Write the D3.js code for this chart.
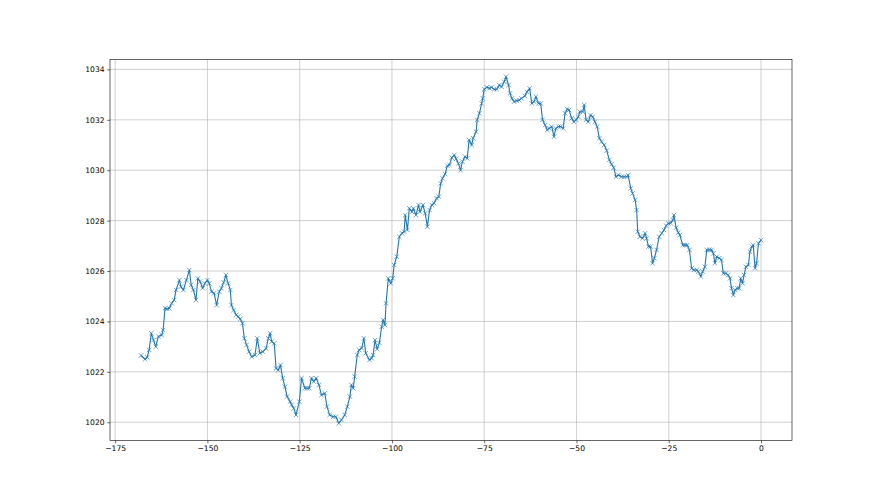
<!DOCTYPE html>
<html><head><meta charset="utf-8">
<script src="https://cdn.jsdelivr.net/npm/d3@7/dist/d3.min.js"></script>
<style>body{margin:0;background:#fff}svg{display:block}</style>
</head><body>
<svg id="c" width="880" height="495"></svg>
<script>
const hours = [-168.0,-166.9,-166.3,-165.8,-165.2,-164.6,-164.0,-163.3,-162.4,-162.0,-161.5,-160.9,-160.3,-159.7,-159.0,-158.5,-157.6,-157.2,-156.5,-155.7,-154.9,-154.4,-153.8,-153.1,-152.6,-152.0,-151.3,-150.7,-150.0,-149.5,-148.9,-148.2,-147.5,-146.8,-146.2,-145.6,-145.0,-144.4,-143.8,-143.5,-142.9,-142.2,-141.7,
-141.1,-140.5,-140.0,-139.4,-138.7,-138.0,-137.1,-136.5,-135.8,-135.0,-134.1,-133.5,-133.0,-132.6,-131.9,-131.4,-130.8,-130.2,-129.6,-129.0,-128.4,-127.6,-127.2,-126.6,-126.0,-125.1,-124.5,-123.6,-123.0,-122.4,-121.8,-121.2,-120.5,-119.8,-119.1,-118.2,-117.6,-116.9,
-115.9,-115.2,-114.4,-113.7,-112.8,-112.1,-111.4,-111.0,-110.5,-110.1,-109.4,-108.9,-108.2,-107.6,-107.1,-106.1,-105.5,-105.1,-104.6,-104.0,-103.4,-102.8,-102.4,-101.9,-101.6,-101.0,-100.3,-99.8,-99.4,-98.7,-98.0,-97.3,-96.7,-96.4,-95.8,-95.3,-94.6,-94.2,-93.5,-92.8,-92.4,-91.6,-91.0,-90.4,-89.8,-89.2,-88.6,-87.9,-87.3,-86.8,-86.3,-85.6,-85.0,-84.4,-83.8,-83.1,-82.6,-82.0,-81.4,-80.9,-80.2,-79.6,-79.1,-78.4,-78.0,-77.2,-76.9,-76.3,-75.7,-75.4,-75.0,-74.3,-73.6,-73.0,-72.3,-71.6,-70.9,-70.3,-69.6,-69.1,-68.4,-68.0,-67.5,-66.9,-66.2,-65.5,-64.9,-64.0,-63.4,-62.7,-62.1,-61.5,-61.0,-60.3,-59.7,-59.2,-58.5,-57.9,-57.4,-56.7,-56.1,-55.6,-54.9,-54.3,-53.6,-53.1,-52.5,-52.0,-51.3,-50.7,-50.1,-49.5,-49.1,-48.3,-47.9,-47.4,-46.8,-46.2,-45.6,-45.0,-44.4,-43.8,-43.2,-42.5,-41.8,-41.1,-40.5,-39.9,-39.3,-38.6,-37.8,-37.1,-36.4,-36.0,-35.3,-34.8,-34.1,-33.7,-33.4,-32.8,-32.1,-31.4,-31.0,-30.5,-29.9,-29.4,-28.9,-28.3,-27.6,-26.9,-26.3,-25.7,-25.1,-24.5,-23.9,-23.6,-23.0,-22.4,-22.0,-21.2,-20.6,-20.0,-19.4,-18.8,-18.2,-17.4,-17.0,-16.3,-15.8,-15.2,-14.7,-14.0,-13.4,-12.9,-12.5,-12.0,-11.3,-10.7,-10.2,-9.5,-8.9,-8.4,-8.0,-7.5,-7.0,-6.4,-5.9,-5.5,-5.0,-4.6,-4.1,-3.4,-3.0,-2.5,-2.1,-1.6,-1.2,-0.7,0.0];
const pressure = [1022.65,1022.50,1022.58,1022.87,1023.53,1023.26,1023.00,1023.40,1023.46,1023.66,1024.52,1024.50,1024.52,1024.72,1024.85,1025.25,1025.64,1025.38,1025.25,1025.64,1026.04,1025.45,1025.25,1024.85,1025.71,1025.58,1025.32,1025.51,1025.64,1025.51,1025.18,1025.12,1024.65,1025.18,1025.32,1025.55,1025.84,1025.51,1025.25,1024.65,1024.45,1024.26,1024.19,
1024.10,1023.93,1023.33,1023.07,1022.80,1022.60,1022.67,1023.33,1022.74,1022.80,1022.93,1023.33,1023.53,1023.20,1023.13,1022.14,1022.07,1022.27,1021.75,1021.41,1021.02,1020.82,1020.69,1020.55,1020.29,1020.82,1021.75,1021.35,1021.35,1021.35,1021.75,1021.61,1021.75,1021.48,1021.08,1021.15,1020.62,1020.29,
1020.22,1020.22,1019.96,1020.09,1020.29,1020.62,1021.02,1021.48,1021.35,1021.81,1022.67,1022.87,1022.94,1023.33,1022.74,1022.47,1022.54,1022.67,1023.26,1022.90,1023.15,1023.79,1024.06,1023.86,1024.72,1025.71,1025.51,1025.71,1026.24,1026.57,1027.36,1027.50,1027.56,1028.22,1027.63,1028.49,1028.35,1028.49,1028.22,1028.62,1028.35,1028.62,1028.29,1027.76,1028.42,1028.62,1028.69,1028.89,1028.95,1029.48,1029.68,1029.85,1030.18,1030.21,1030.50,1030.60,1030.45,1030.27,1030.00,1030.34,1030.54,1030.47,1031.20,1031.00,1031.27,1031.53,1032.00,1032.26,1032.65,1032.85,1033.21,1033.29,1033.25,1033.29,1033.21,1033.21,1033.38,1033.31,1033.51,1033.71,1033.38,1033.05,1032.85,1032.72,1032.76,1032.78,1032.85,1032.95,1033.11,1033.25,1032.65,1032.72,1032.92,1032.65,1032.65,1032.00,1031.79,1031.60,1031.66,1031.73,1031.33,1031.66,1031.73,1031.73,1031.66,1032.26,1032.42,1032.39,1032.06,1031.92,1032.00,1032.12,1032.32,1032.32,1032.59,1032.00,1031.92,1032.19,1032.12,1031.92,1031.73,1031.27,1031.13,1031.00,1030.78,1030.41,1030.24,1030.10,1029.74,1029.81,1029.74,1029.74,1029.74,1029.81,1029.28,1029.08,1028.82,1028.42,1027.56,1027.36,1027.30,1027.50,1027.30,1026.97,1026.97,1026.31,1026.51,1026.84,1027.36,1027.50,1027.63,1027.80,1027.89,1027.90,1028.02,1028.22,1027.72,1027.53,1027.43,1027.03,1027.03,1027.03,1026.84,1026.11,1026.04,1026.04,1025.98,1025.78,1025.98,1026.17,1026.84,1026.84,1026.84,1026.70,1026.31,1026.57,1026.51,1026.44,1025.91,1025.91,1025.84,1025.71,1025.32,1025.05,1025.25,1025.32,1025.32,1025.71,1025.51,1025.84,1026.17,1026.24,1026.77,1026.97,1027.03,1026.11,1026.31,1027.10,1027.23];
const xTicks = [-175,-150,-125,-100,-75,-50,-25,0];
const yTicks = [1020,1022,1024,1026,1028,1030,1032,1034];

const W = 880, H = 495;
const pL = 110, pR = 792, pT = 59.4, pB = 440.6;
const svg = d3.select("#c");
const color = "#1f77b4";

const xmin = d3.min(hours), xmax = d3.max(hours);
const ymin = d3.min(pressure), ymax = d3.max(pressure);
const xm = (xmax - xmin) * 0.05, ym = (ymax - ymin) * 0.05;
const x = d3.scaleLinear().domain([xmin - xm, xmax + xm]).range([pL, pR]);
const y = d3.scaleLinear().domain([ymin - ym, ymax + ym]).range([pB, pT]);

const fmt = d => String(d).replace("-", "\u2212");

// grid
const g = svg.append("g");
g.selectAll(".vx").data(xTicks).join("line")
  .attr("x1", d => x(d)).attr("x2", d => x(d)).attr("y1", pT).attr("y2", pB)
  .attr("stroke", "#b0b0b0").attr("stroke-width", 0.6);
g.selectAll(".hy").data(yTicks).join("line")
  .attr("y1", d => y(d)).attr("y2", d => y(d)).attr("x1", pL).attr("x2", pR)
  .attr("stroke", "#b0b0b0").attr("stroke-width", 0.6);

// data
const pts = hours.map((h, i) => [h, pressure[i]]);
const line = d3.line().x(d => x(d[0])).y(d => y(d[1]));
svg.append("path").datum(pts).attr("d", line)
  .attr("fill", "none").attr("stroke", color).attr("stroke-width", 1.1).attr("stroke-linejoin", "round");
const s = 2.2;
svg.append("g").selectAll("path").data(pts).join("path")
  .attr("d", d => {const cx = x(d[0]), cy = y(d[1]);
    return `M${cx-s},${cy-s}L${cx+s},${cy+s}M${cx-s},${cy+s}L${cx+s},${cy-s}`;})
  .attr("stroke", color).attr("stroke-width", 0.65).attr("fill", "none");

// axes
const xAxis = d3.axisBottom(x).tickValues(xTicks).tickSize(2.7).tickPadding(2.7).tickFormat(fmt);
const yAxis = d3.axisLeft(y).tickValues(yTicks).tickSize(2.7).tickPadding(2.7).tickFormat(fmt);
const ax = svg.append("g").attr("transform", `translate(0,${pB})`).call(xAxis);
const ay = svg.append("g").attr("transform", `translate(${pL},0)`).call(yAxis);
[ax, ay].forEach(a => {
  a.select(".domain").remove();
  a.selectAll(".tick line").attr("stroke", "#000").attr("stroke-width", 0.6);
  a.selectAll(".tick text").attr("fill", "#000").style("font-family", "DejaVu Sans").style("font-size", "7.6px");
});

// frame
svg.append("rect").attr("x", pL).attr("y", pT).attr("width", pR - pL).attr("height", pB - pT)
  .attr("fill", "none").attr("stroke", "#000").attr("stroke-width", 0.6);
</script>
</body></html>
